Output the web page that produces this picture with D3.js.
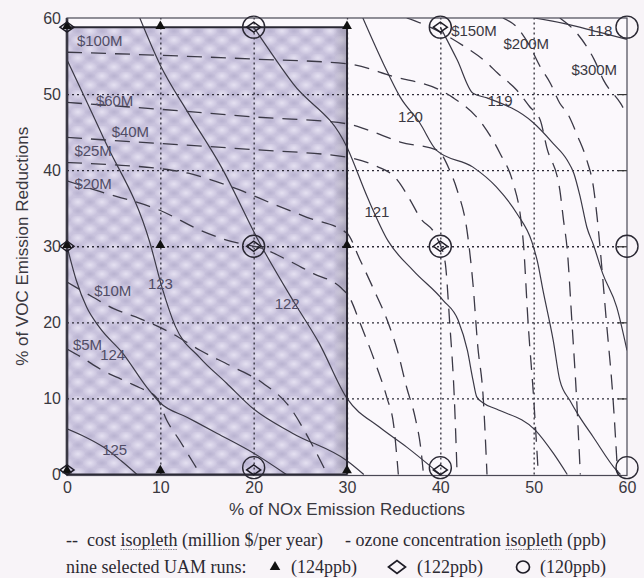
<!DOCTYPE html>
<html><head><meta charset="utf-8">
<script src="https://cdn.jsdelivr.net/npm/d3@7"></script>
<style>
html,body{margin:0;padding:0;background:#f8f4f8;}
svg{display:block;}
</style></head><body>
<svg id="chart" width="644" height="578"></svg>
<script>
// ---------- DATA ----------
const xTicks = [0, 10, 20, 30, 40, 50, 60];
const yTicks = [0, 10, 20, 30, 40, 50, 60];
const gridX = [10, 20, 30, 40, 50];
const gridY = [10, 20, 30, 40, 50];

// ozone concentration isopleths (ppb): [NOx %, VOC %]
const ozone125 = [[0,6],[2,4.9],[3.9,3.6],[5.8,1.8],[7.5,0]];
const ozone124 = [[0,30],[1,25.5],[2.1,22],[3.5,19.3],[6,15.9],[8.6,11.4],[10,9.4],[12.9,7.5],[16.1,5.4],[20,2.8],[23.5,0]];
const ozone123 = [[0,54.5],[4,44],[8.9,30.4],[10.2,24.5],[11.6,19.5],[14.2,15.4],[17.1,12],[20,8.6],[24.2,5.4],[30,1.8],[31.8,0]];
const ozone122 = [[7.8,60],[10,53.8],[13,47.5],[16.5,40.5],[20.7,30.3],[24.2,22.9],[27,17.3],[30,10],[33.5,6.2],[36.4,3.6],[40,0]];
const ozone121 = [[20,58.8],[24.2,51.4],[30,43],[32.2,36.4],[34.4,30.7],[37.1,26.8],[40.3,22.9],[41.9,20.3],[42.9,16.3],[43.5,12.4],[43.9,10.2],[44.6,9.4],[46,8.6],[50.2,5.8],[52.1,2.8],[53.6,0]];
const ozone120 = [[31.7,60],[33.9,54],[35.7,49.6],[37.8,46.2],[39.6,42.6],[43.5,40.4],[46,37.8],[48.2,34.3],[49.8,30.6],[50.4,28],[51,24.2],[52.1,17.6],[52.8,12.4],[53.9,9.7],[54.7,8],[56.4,4.9],[58.9,0.5],[59.3,0]];
const ozone119 = [[40,58.8],[41.8,54.5],[43.5,50.1],[45,49.5],[50,46.2],[52.1,43.5],[53.6,41.3],[54.3,39.6],[55,36.4],[55.7,32.5],[56.4,30.2],[57.4,26.4],[58.9,22],[60,16.3]];
const ozone118 = [[50,60],[53.2,59.3],[56.8,58.2],[60,57.2]];

// cost isopleths (million $/year)
const cost5   = [[0,16.5],[1.7,15.3],[3.5,13.9],[6.4,12.2],[7.8,11.4],[9.6,10.1],[10.7,7.1],[12.1,4.4],[12.9,2.8],[14.3,0]];
const cost10  = [[0,25.3],[2.8,23.3],[5,21.8],[7.8,20.5],[11,18.7],[14.3,16.3],[17.5,14.3],[21,12],[23.9,8.8],[26,4.5],[27.9,0]];
const cost20  = [[0,38.6],[3.5,37.2],[10,34.7],[14.3,32.1],[17.1,30.8],[21.4,29.5],[23.6,28.2],[26.4,26.4],[29.3,24.6],[30.3,23.2],[31.4,19.9],[33.2,14.1],[34.3,10],[35,6.5],[35.5,0]];
const cost25  = [[0,41],[5,40.7],[10,40.2],[13,39.6],[15,38.9],[18.5,37.4],[22,35.6],[25.7,33.8],[30,31.7],[31.4,28.2],[32.8,24.5],[34.3,20.3],[35.4,16.3],[36.4,11.4],[37.3,7.5],[37.9,3.5],[38.2,0]];
const cost40  = [[0,44.3],[10,43.5],[20,42.7],[30,41.7],[32.8,40.7],[35.4,38.7],[36.8,36],[37.8,33.8],[39.6,31.2],[40.5,28],[41,20],[41.5,10],[41.8,0]];
const cost60  = [[0,48.9],[10,48],[20,47],[30,46.1],[32.2,45.3],[35.7,43.7],[39.7,42.6],[41,40],[41.8,37.4],[42.9,31.7],[43.5,25],[44,17],[44.6,10],[45,0]];
const cost100 = [[0,55.5],[10,55.1],[20,54.6],[30,54],[35,52.3],[40,50.5],[41.4,49.5],[44.6,45.9],[46.4,42.2],[47.8,38.3],[48.6,33.8],[48.9,30.4],[49.4,20],[50,10],[50.5,0]];
const cost150 = [[36.4,60],[38.9,58.8],[42.4,56.4],[45,54.1],[46.1,52.8],[48.2,50.5],[49.6,48.3],[50.7,46.6],[51.4,43],[52.8,37.4],[53.2,33.4],[53.6,29.5],[54.1,20],[54.6,10],[55,0]];
const cost200 = [[46.7,60],[48.2,58.8],[49.5,56.5],[50.7,53.6],[51.8,51.4],[52.8,48.8],[53.6,47.5],[54.7,44.5],[55.7,41.3],[56.4,37.8],[56.8,33.8],[57.1,30],[57.8,20],[58.5,10],[59,0]];
const cost300 = [[52.8,60],[54.7,57.9],[56.5,54.5],[57.5,51.8],[59.3,48.8],[60,47.3]];

const ozoneLines = [ozone125, ozone124, ozone123, ozone122, ozone121, ozone120, ozone119, ozone118];
const costLines  = [cost5, cost10, cost20, cost25, cost40, cost60, cost100, cost150, cost200, cost300];

// isopleth labels: [text, NOx %, VOC %]
const ozoneLabels = [["125",5.1,3.3],["124",4.9,15.7],["123",10,25.1],["122",23.6,22.4],["121",33.2,34.5],["120",36.8,47],["119",46.4,49.1],["118",57.1,58.4]];
const costLabels  = [["$5M",2.2,17.1],["$10M",4.9,24.2],["$20M",2.8,38.3],["$25M",2.8,42.6],["$40M",6.8,45.1],["$60M",5.1,49.2],["$100M",3.5,57],["$150M",43.6,58.4],["$200M",49.2,56.7],["$300M",56.5,53.2]];

// nine selected UAM runs: [NOx %, VOC %]
const runs124 = [[0,58.8],[10,58.8],[30,58.8],[0,30],[10,30],[30,30],[0,0.4],[10,0.4],[30,0.4]];
const runs122 = [[0,58.8],[20,58.8],[40,58.8],[0,30],[20,30],[40,30],[0,0.6],[20,0.6],[40,0.6]];
const runs120 = [[20,58.8],[40,58.8],[60,58.8],[20,30],[40,30],[60,30],[20,0.9],[40,0.9],[60,0.9]];
const shadedBox = [[0,0],[30,58.8]];

// ---------- CHART ----------
const svg = d3.select("#chart");
const W = 644, H = 578;
const x = d3.scaleLinear().domain([0, 60]).range([67, 627]);
const y = d3.scaleLinear().domain([0, 60]).range([474.5, 18]);
const sans = "'Liberation Sans', Arial, sans-serif";
const serif = "'Liberation Serif', 'Times New Roman', serif";
const ink = "#3b3946";

svg.append("rect").attr("width", W).attr("height", H).attr("fill", "#f8f4f8");

const defs = svg.append("defs");
const rg = defs.append("radialGradient").attr("id", "spot");
rg.append("stop").attr("offset", "0%").attr("stop-color", "#e6e2f2").attr("stop-opacity", 0.95);
rg.append("stop").attr("offset", "100%").attr("stop-color", "#e6e2f2").attr("stop-opacity", 0);
const rd = defs.append("radialGradient").attr("id", "dark");
rd.append("stop").attr("offset", "0%").attr("stop-color", "#b2accb").attr("stop-opacity", 0.7);
rd.append("stop").attr("offset", "100%").attr("stop-color", "#b2accb").attr("stop-opacity", 0);
const pat = defs.append("pattern").attr("id", "tex").attr("patternUnits", "userSpaceOnUse")
  .attr("width", 24).attr("height", 18);
pat.append("rect").attr("width", 24).attr("height", 18).attr("fill", "#c9c3dd");
[[6,4],[18,13],[-6,13],[30,4]].forEach(p => pat.append("ellipse").attr("cx", p[0]).attr("cy", p[1]).attr("rx", 7.5).attr("ry", 5.5).attr("fill", "url(#spot)"));
[[18,4],[6,13],[-6,4]].forEach(p => pat.append("ellipse").attr("cx", p[0]).attr("cy", p[1]).attr("rx", 6).attr("ry", 4).attr("fill", "url(#dark)"));
const lg = defs.append("linearGradient").attr("id", "shade");
lg.append("stop").attr("offset", "0%").attr("stop-color", "#8c8898").attr("stop-opacity", 0);
lg.append("stop").attr("offset", "100%").attr("stop-color", "#8c8898").attr("stop-opacity", 0.55);
defs.append("clipPath").attr("id", "plotclip").append("rect")
  .attr("x", x(0)).attr("y", y(60)).attr("width", x(60) - x(0)).attr("height", y(0) - y(60) + 1);

// plot area
svg.append("rect").attr("x", x(0)).attr("y", y(60)).attr("width", x(60) - x(0)).attr("height", y(0) - y(60))
  .attr("fill", "#fbf8fc");

// shaded region
const sx0 = x(shadedBox[0][0]), sx1 = x(shadedBox[1][0]);
const sy0 = y(shadedBox[1][1]), sy1 = y(shadedBox[0][1]);
svg.append("rect").attr("x", sx0).attr("y", sy0).attr("width", sx1 - sx0).attr("height", sy1 - sy0).attr("fill", "url(#tex)");
svg.append("rect").attr("x", sx1 - 14).attr("y", sy0).attr("width", 14).attr("height", sy1 - sy0).attr("fill", "url(#shade)");

// grid (dotted)
const gx = svg.append("g").attr("transform", `translate(0,${y(0)})`)
  .call(d3.axisBottom(x).tickValues(gridX).tickSize(-(y(0) - y(60))).tickFormat(""));
const gy = svg.append("g").attr("transform", `translate(${x(0)},0)`)
  .call(d3.axisLeft(y).tickValues(gridY).tickSize(-(x(60) - x(0))).tickFormat(""));
[gx, gy].forEach(g => {
  g.select(".domain").remove();
  g.selectAll(".tick line").attr("stroke", "#2e2c38").attr("stroke-width", 1.3).attr("stroke-dasharray", "2,3");
});
// right axis inward ticks
const gr = svg.append("g").attr("transform", `translate(${x(60)},0)`)
  .call(d3.axisRight(y).tickValues(gridY).tickSize(-9).tickFormat(""));
gr.select(".domain").remove();
gr.selectAll(".tick line").attr("stroke", "#333").attr("stroke-width", 1.2);

// isopleth lines
const line = d3.line().x(d => x(d[0])).y(d => y(d[1])).curve(d3.curveMonotoneX);
const lines = svg.append("g").attr("clip-path", "url(#plotclip)");
lines.selectAll(".cost").data(costLines).join("path").attr("class", "cost")
  .attr("d", line).attr("fill", "none").attr("stroke", ink).attr("stroke-width", 1.3)
  .attr("stroke-dasharray", "15,9");
lines.selectAll(".ozone").data(ozoneLines).join("path").attr("class", "ozone")
  .attr("d", line).attr("fill", "none").attr("stroke", ink).attr("stroke-width", 1.2);

// shaded box borders
svg.append("path")
  .attr("d", `M${sx0},${sy1}V${sy0}H${sx1}V${sy1}`)
  .attr("fill", "none").attr("stroke", "#2a2833").attr("stroke-width", 2);
svg.append("line").attr("x1", sx0).attr("x2", sx1).attr("y1", sy1).attr("y2", sy1)
  .attr("stroke", "#2a2833").attr("stroke-width", 2.2);
svg.append("line").attr("x1", sx0).attr("x2", sx0).attr("y1", y(60)).attr("y2", sy1)
  .attr("stroke", "#24222c").attr("stroke-width", 2.6);
// plot border
svg.append("rect").attr("x", x(0)).attr("y", y(60)).attr("width", x(60) - x(0)).attr("height", y(0) - y(60) + 1)
  .attr("fill", "none").attr("stroke", "#4a4855").attr("stroke-width", 1.2);

// markers
const mk = svg.append("g");
mk.selectAll(".c120").data(runs120).join("circle").attr("class", "c120")
  .attr("cx", d => x(d[0])).attr("cy", d => y(d[1])).attr("r", 11)
  .attr("fill", "none").attr("stroke", "#2a2833").attr("stroke-width", 1.4);
const diamond = (cx, cy, w, h) => `M${cx - w / 2},${cy}L${cx},${cy - h / 2}L${cx + w / 2},${cy}L${cx},${cy + h / 2}Z`;
mk.selectAll(".t124").data(runs124).join("path").attr("class", "t124")
  .attr("transform", d => `translate(${x(d[0])},${y(d[1]) - 1})`)
  .attr("d", d3.symbol().type(d3.symbolTriangle).size(42)).attr("fill", "#111");
mk.selectAll(".d122").data(runs122).join("path").attr("class", "d122")
  .attr("d", d => diamond(x(d[0]), y(d[1]), 14, 10))
  .attr("fill", "none").attr("stroke", "#1e1c26").attr("stroke-width", 1.5);

// isopleth labels
const labG = svg.append("g").attr("font-family", sans).attr("font-size", 15).attr("text-anchor", "middle");
labG.selectAll(".ol").data(ozoneLabels.concat(costLabels)).join("text")
  .attr("x", d => x(d[1])).attr("y", d => y(d[2])).attr("dy", "0.36em")
  .attr("fill", d => d[1] < 30 ? "#514d66" : "#3a3842")
  .attr("textLength", d => d[0].length * 8.3 + (d[0].includes("M") ? 4 : 0))
  .text(d => d[0]);

// axes tick labels
const ax = svg.append("g").attr("transform", `translate(0,${y(0)})`)
  .call(d3.axisBottom(x).tickValues(xTicks).tickSize(0).tickPadding(7));
const ay = svg.append("g").attr("transform", `translate(${x(0)},0)`)
  .call(d3.axisLeft(y).tickValues(yTicks).tickSize(0).tickPadding(6));
[ax, ay].forEach(g => {
  g.select(".domain").remove();
  g.selectAll("text").attr("font-family", sans).attr("font-size", 16).attr("fill", "#3a3840");
});

// axis titles
svg.append("text").attr("x", (x(0) + x(60)) / 2).attr("y", 515).attr("text-anchor", "middle")
  .attr("font-family", sans).attr("font-size", 17).attr("fill", "#3a3840")
  .text("% of NOx Emission Reductions");
svg.append("text").attr("transform", `translate(27.5,${(y(0) + y(60)) / 2}) rotate(-90)`).attr("text-anchor", "middle")
  .attr("font-family", sans).attr("font-size", 17).attr("fill", "#3a3840")
  .text("% of VOC Emission Reductions");

// legend text
function run(x0, yb, pieces) {
  let cx = x0;
  pieces.forEach(p => {
    const t = svg.append("text").attr("x", cx).attr("y", yb).attr("font-family", serif)
      .attr("font-size", 18).attr("fill", "#2c2a32").attr("xml:space", "preserve").text(p.t);
    const w = t.node().getComputedTextLength();
    if (p.u) {
      svg.append("line").attr("x1", cx).attr("x2", cx + w).attr("y1", yb + 3.5).attr("y2", yb + 3.5)
        .attr("stroke", "#8a8690").attr("stroke-width", 1).attr("stroke-dasharray", "1.5,1");
    }
    cx += w;
  });
  return cx;
}
run(66, 546, [{t: "--  cost "}, {t: "isopleth", u: true}, {t: " (million $/per year)"}]);
run(345, 546, [{t: "- ozone concentration "}, {t: "isopleth", u: true}, {t: " (ppb)"}]);
run(66, 573, [{t: "nine selected UAM runs:"}]);
svg.append("path").attr("transform", "translate(275,567)")
  .attr("d", d3.symbol().type(d3.symbolTriangle).size(48)).attr("fill", "#111");
run(291, 573, [{t: "(124ppb)"}]);
svg.append("path").attr("d", diamond(397, 567, 17, 13)).attr("fill", "none").attr("stroke", "#1e1c26").attr("stroke-width", 1.7);
run(417, 573, [{t: "(122ppb)"}]);
svg.append("ellipse").attr("cx", 523).attr("cy", 567).attr("rx", 6.5).attr("ry", 6).attr("fill", "none").attr("stroke", "#1e1c26").attr("stroke-width", 1.7);
run(540, 573, [{t: "(120ppb)"}]);
</script>
</body></html>
